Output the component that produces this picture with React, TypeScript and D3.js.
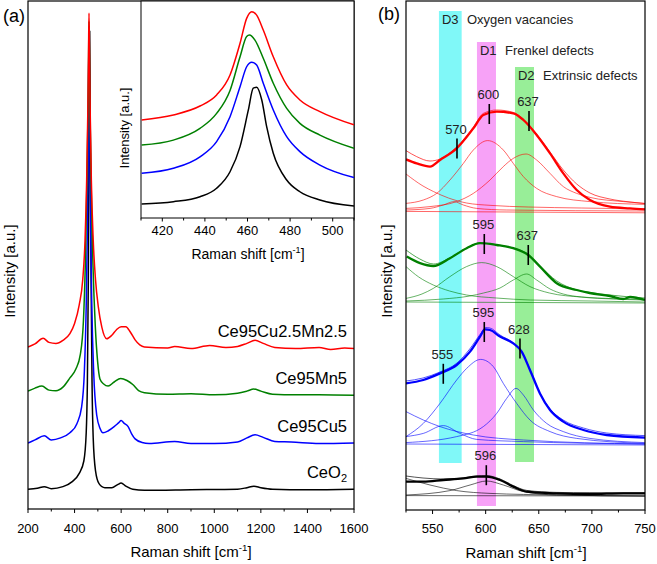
import React from 'react';
import * as d3 from 'd3';

type Pt = [number, number];

// ---------- panel (a): full Raman spectra (x: cm-1, y: a.u.) ----------
const specCeO2: Pt[] = [[200, 3.9], [240, 4.1], [270, 4.4], [300, 4.0], [350, 4.4], [390, 5.4], [420, 7], [440, 9.5], [450, 15], [455, 25], [459, 45], [462, 70], [465, 94], [468, 70], [471, 45], [475, 25], [480, 14], [490, 7.5], [505, 5], [530, 4.2], [560, 4.2], [585, 4.8], [600, 5.1], [620, 4.5], [650, 3.9], [700, 3.7], [900, 3.8], [1100, 3.9], [1140, 4.2], [1170, 4.5], [1200, 4.2], [1250, 3.9], [1400, 3.8], [1600, 3.9]];
const specCu5: Pt[] = [[200, 13], [230, 13.6], [270, 14.4], [300, 13.6], [340, 14], [380, 15], [410, 16.8], [430, 20], [442, 27], [450, 40], [455, 55], [459, 75], [462, 95], [465, 75], [469, 55], [474, 40], [482, 27], [495, 18.5], [510, 15.8], [522, 15], [545, 15.4], [570, 16.2], [590, 17.0], [600, 17.4], [612, 16.9], [630, 16.2], [645, 14.8], [660, 13.8], [690, 13.1], [720, 12.9], [830, 13.3], [900, 12.9], [1000, 12.9], [1100, 13.2], [1140, 14], [1175, 14.6], [1210, 14.1], [1260, 13.3], [1330, 13.2], [1450, 12.9], [1600, 13]];
const specMn5: Pt[] = [[200, 23.2], [230, 23.8], [260, 24.2], [290, 23.4], [320, 23.3], [350, 24], [380, 25.8], [405, 27.5], [425, 30.5], [438, 37], [446, 48], [452, 62], [457, 76], [460, 88], [462, 96], [464, 88], [467, 76], [472, 62], [479, 48], [489, 36], [499, 29], [509, 25.6], [525, 24.6], [544, 24.2], [570, 25.0], [598, 25.7], [625, 25.3], [650, 24.5], [675, 23.3], [700, 22.9], [800, 22.6], [900, 22.7], [1000, 22.5], [1100, 22.8], [1140, 23.2], [1170, 23.6], [1200, 23.2], [1250, 22.6], [1350, 22.5], [1450, 22.5], [1600, 22.4]];
const specCuMn: Pt[] = [[200, 31.9], [230, 32.5], [265, 33.6], [290, 32.8], [320, 32.6], [350, 33.2], [380, 34.5], [400, 36.5], [420, 40.2], [435, 45.1], [445, 53], [452, 64.8], [457, 78.5], [460, 90.4], [462, 97.6], [464, 90.4], [467, 78.5], [472, 64.8], [480, 53], [490, 45.1], [502, 39.8], [517, 35.8], [538, 33.5], [560, 34.2], [580, 35.3], [600, 35.9], [620, 35.9], [640, 34.8], [660, 33.3], [680, 32.3], [700, 31.9], [800, 31.7], [830, 32], [900, 31.6], [980, 32.2], [1050, 31.8], [1100, 32], [1140, 32.6], [1175, 33.2], [1210, 32.6], [1260, 31.8], [1350, 31.6], [1450, 31.8], [1500, 31.4], [1560, 31.7], [1600, 31.6]];

const sampleNames = ['CeO2', 'Ce95Cu5', 'Ce95Mn5', 'Ce95Cu2.5Mn2.5'];
const sampleColors = ['#000000', '#0000ff', '#008000', '#ff0000'];
const ticksA = [200, 400, 600, 800, 1000, 1200, 1400, 1600];

// ---------- inset: F2g band ----------
const insetCeO2: Pt[] = [[410.3, 6.5], [425.2, 7.5], [437.7, 9.8], [445.5, 13.7], [451.8, 21.3], [456.5, 32.9], [460.4, 49.8], [462.7, 59.8], [464.3, 60.3], [466.7, 54.4], [469, 42.1], [472.1, 29.8], [478.4, 17.5], [484.6, 12.1], [494, 8.3], [510, 5.5]];
const insetCu5: Pt[] = [[410.3, 20.6], [425.2, 22.9], [437.7, 28.2], [445.5, 35.2], [451.8, 46.7], [456.5, 60.5], [459.6, 69.7], [462, 71.8], [464.3, 70.5], [467.4, 62.1], [472.1, 49.8], [478.4, 37.5], [484.6, 30.6], [494, 24.4], [510, 18.6]];
const insetMn5: Pt[] = [[410.3, 33.6], [425.2, 35.9], [437.7, 41.3], [445.5, 48.2], [451.8, 58.8], [456.5, 74.3], [459.6, 83.6], [460.9, 84.3], [463.5, 82], [467.4, 73.6], [472.1, 62.1], [478.4, 50.5], [484.6, 43.6], [494, 38.2], [510, 32.1]];
const insetCuMn: Pt[] = [[410.3, 45.2], [425.2, 47.5], [437.7, 51.6], [445.5, 56.7], [451.8, 65.9], [456.5, 80.5], [459.6, 92], [462, 95.1], [464.3, 93.5], [467.4, 86.6], [472.1, 74.3], [478.4, 61.3], [484.6, 54.4], [494, 49], [510, 42.9]];
const ticksInset = [420, 440, 460, 480, 500];

// ---------- panel (b): defect region with fitted components ----------
const cuMnData: Pt[] = [[525, 175.3], [535, 173.3], [547.6, 171.7], [557, 175], [572.7, 180.8], [588.4, 190.8], [597.8, 197.5], [610.4, 199.2], [626, 198.3], [635.5, 195], [648, 187.5], [660.6, 178.3], [673.1, 168.3], [685.7, 160], [698.2, 155], [717, 151.7], [735.9, 150.8], [750, 150.3]];
const cuMnFit: Pt[] = [[525, 179.7], [535, 176.7], [547.6, 174.5], [557, 175.5], [572.7, 181.5], [588.4, 191.5], [597.8, 198.3], [610.4, 200], [626, 198.8], [635.5, 195.5], [648, 188], [660.6, 179], [673.1, 170], [685.7, 163], [698.2, 158.5], [717, 155.5], [735.9, 154], [750, 153.2]];
const cuMnD1: Pt[] = [[525, 153.3], [541.3, 155], [553.9, 158.3], [566.4, 165], [579, 173.3], [588.4, 180], [601.9, 184.7], [616.6, 180], [626, 173.3], [635.5, 166.7], [648, 160.8], [666.8, 156.7], [698.2, 154.2], [750, 152.8]];
const cuMnD2: Pt[] = [[525, 150.8], [547.6, 151.7], [572.7, 154.2], [588.4, 158.3], [604.1, 165], [616.6, 171.7], [626, 175.8], [638, 178], [648, 175], [660.6, 168.3], [673.1, 161.7], [685.7, 158.3], [698.2, 156.3], [729.6, 154.2], [750, 153.3]];
const cuMnD3: Pt[] = [[525, 150], [547.6, 150.8], [560.1, 152.5], [570.2, 154.2], [579, 152.5], [591.5, 150.8], [619.7, 150], [750, 149.5]];
const cuMnTail: Pt[] = [[525, 168], [541, 162], [551, 159.2], [565, 156], [582, 153.5], [605, 152.3], [640, 151.5], [690, 151], [750, 150.5]];
const cuMnBase: Pt[] = [[525, 149.3], [750, 148.6]];

const mn5Data: Pt[] = [[525.7, 126.7], [538.2, 123.4], [550.7, 122], [566.4, 125.9], [582.1, 130.9], [594.7, 133.4], [610.4, 132.5], [626, 130.9], [640.1, 127.5], [651.2, 121.7], [666.9, 113.4], [685.7, 110], [698, 108.5], [717, 107], [729.6, 105.5], [736, 106.5], [750, 105]];
const mn5Fit: Pt[] = [[525, 130], [538, 125.5], [551, 123], [566, 126], [582, 131], [595, 133.6], [610, 132.6], [626, 131], [640, 127.8], [651, 122], [667, 114.5], [686, 110], [698, 108.8], [717, 107.5], [736, 106.5], [750, 106]];
const mn5D1: Pt[] = [[525, 105.8], [540, 108], [550.7, 110.8], [566.4, 116.7], [582, 121.7], [596.3, 123.7], [610.4, 121.7], [626, 116.7], [641.7, 111.7], [660, 108.5], [690, 106.5], [750, 105.3]];
const mn5D2: Pt[] = [[525, 104.5], [560, 105.5], [585, 107], [598, 108.5], [613.5, 111], [626, 115], [638.6, 118], [648, 115], [660.6, 110.5], [673, 108], [690, 106.5], [720, 105.5], [750, 105]];
const mn5Tail: Pt[] = [[525, 121.7], [537, 116.5], [550.7, 112.5], [566, 109.5], [582, 107.5], [610, 106], [642, 105], [700, 104.5], [750, 104]];
const mn5Base: Pt[] = [[525, 104], [750, 103.5]];

const cu5Data: Pt[] = [[525, 63.3], [541.3, 65], [557, 68.3], [572.7, 72.5], [585.3, 79.2], [594.7, 86.7], [599.4, 90.3], [604.1, 90], [613.5, 86.7], [626, 83.3], [633.9, 79.2], [641.7, 70], [651.1, 58.3], [660.6, 50], [673.1, 44.2], [692, 40], [713.9, 37.5], [750, 36.2]];
const cu5Fit: Pt[] = [[525, 64.5], [541, 66], [557, 69], [573, 73.5], [585, 80.5], [595, 88], [600, 91.2], [604, 91], [613.5, 87.5], [626, 83.5], [634, 79], [642, 70], [651, 58.5], [660.6, 50.5], [673, 45], [692, 41], [714, 38.5], [750, 37.2]];
const cu5D1: Pt[] = [[525, 36.7], [541.3, 43.3], [557, 53.3], [572.7, 65], [582.1, 70.8], [595.3, 75.3], [607.2, 71.7], [616.6, 63.3], [629.2, 53.3], [641.7, 45], [660.6, 39.2], [685.7, 35.8], [750, 33.3]];
const cu5D2: Pt[] = [[525, 33.7], [572.7, 36.7], [597.8, 41.7], [610.4, 48.3], [619.8, 55.8], [628.6, 60.8], [635.5, 57.5], [644.9, 50], [657.4, 43.3], [673.1, 39.2], [698.2, 35.8], [750, 33.7]];
const cu5D3: Pt[] = [[525, 36.7], [541.3, 38.3], [560.1, 42.2], [575.8, 38.3], [591.5, 35.3], [635.5, 34.2], [750, 33]];
const cu5Tail: Pt[] = [[525, 49.2], [541.3, 45], [557, 41.7], [588.4, 37.5], [635.5, 35], [750, 33]];
const cu5Base: Pt[] = [[525, 33], [750, 32.5]];

const ceo2Data: Pt[] = [[525, 14.2], [541.3, 14.2], [560.1, 15], [579, 15.8], [591.5, 16.7], [600.9, 16.7], [613.5, 15], [626, 11.7], [638.6, 9.2], [666.8, 8.3], [698.2, 8], [729.6, 8.3], [750, 8.3]];
const ceo2Fit: Pt[] = [[525, 17], [541, 16], [560, 15.5], [579, 16], [591.5, 17], [601, 17.2], [613.5, 15.5], [626, 12.2], [638.6, 9.8], [667, 8.8], [698, 8.6], [750, 8.6]];
const ceo2D1: Pt[] = [[525, 7.5], [566.4, 9.7], [585.3, 12.5], [600.9, 14.5], [616.6, 12.5], [635.5, 9.2], [666.8, 7.5], [750, 7]];
const ceo2Tail: Pt[] = [[525, 15.8], [547.6, 12.5], [572.7, 9.7], [604.1, 8.3], [666.8, 7.5], [750, 7]];
const ceo2Base: Pt[] = [[525, 7.2], [750, 7]];

const bandNames = ['D3', 'D1', 'D2'];
const bandTitles = ['Oxygen vacancies', 'Frenkel defects', 'Extrinsic defects'];
const bandFrom = [556, 591.8, 627.6];
const bandTo = [577.4, 609.7, 645.5];
const bandTop = [249.5, 234, 221.5];
const bandBottom = [23.5, 2, 24];
const bandColors = ['#80f8f8', '#f7a2f7', '#98ee98'];

const markWn = [573, 603.4, 640.8, 598.7, 640.1, 560.1, 598.7, 632.3, 600.6];
const markMid = [180.7, 198, 194.5, 133, 127.5, 68.1, 89, 80.7, 17.4];
const markLabels = ['570', '600', '637', '595', '637', '555', '595', '628', '596'];
const ticksB = [550, 600, 650, 700, 750];

const FONT = 'Liberation Sans, Arial, Helvetica, sans-serif';

const xA = d3.scaleLinear().domain([200, 1600]).range([28, 354]);
const yA = d3.scaleLinear().domain([0, 100]).range([509, 1]);
const xI = d3.scaleLinear().domain([410, 510]).range([141, 354]);
const yI = d3.scaleLinear().domain([0, 100]).range([218, 1]);
const xB = d3.scaleLinear().domain([525, 750]).range([406, 645]);
const yB = d3.scaleLinear().domain([0, 254.5]).range([510, 1]);

const mk = (sx: d3.ScaleLinear<number, number>, sy: d3.ScaleLinear<number, number>) =>
  d3.line<Pt>().x(d => sx(d[0])).y(d => sy(d[1])).curve(d3.curveMonotoneX);

const lineA = mk(xA, yA);
const lineI = mk(xI, yI);
const lineB = mk(xB, yB);

const CmTitle = ({ x, y, size }: { x: number; y: number; size: number }) => (
  <text x={x} y={y} textAnchor="middle" fontSize={size} fontFamily={FONT}>
    Raman shift [cm<tspan dy={-6} fontSize={size * 0.65}>-1</tspan><tspan dy={6}>]</tspan>
  </text>
);

const App = () => {
  const specA = [specCeO2, specCu5, specMn5, specCuMn];
  const specI = [insetCeO2, insetCu5, insetMn5, insetCuMn];
  const groupsB = [
    { color: '#000000', data: ceo2Data, fit: ceo2Fit, comps: [ceo2D1, ceo2Tail, ceo2Base] },
    { color: '#0000ff', data: cu5Data, fit: cu5Fit, comps: [cu5D1, cu5D2, cu5D3, cu5Tail, cu5Base] },
    { color: '#008000', data: mn5Data, fit: mn5Fit, comps: [mn5D1, mn5D2, mn5Tail, mn5Base] },
    { color: '#ff0000', data: cuMnData, fit: cuMnFit, comps: [cuMnD1, cuMnD2, cuMnD3, cuMnTail, cuMnBase] },
  ];

  const minorA = d3.range(200, 1601, 100);
  const minorI = d3.range(410, 511, 10);
  const minorB = d3.range(525, 751, 25);

  return (
    <svg width={657} height={564} style={{ position: 'absolute', left: 0, top: 0, background: '#fff' }}>
      <defs>
        <clipPath id="clipA"><rect x={28} y={1} width={326} height={508} /></clipPath>
        <clipPath id="clipI"><rect x={141} y={1} width={213} height={217} /></clipPath>
        <clipPath id="clipB"><rect x={406} y={1} width={239} height={509} /></clipPath>
      </defs>

      {/* ---------- panel (a) ---------- */}
      <g clipPath="url(#clipA)">
        {specA.map((s, i) => (
          <path key={i} d={lineA(s) || ''} fill="none" stroke={sampleColors[i]} strokeWidth={1.5} />
        ))}
      </g>
      {specA.map((s, i) => (
        <text key={i} x={347} y={yA(s[s.length - 1][1]) - 11} textAnchor="end" fontSize={16.5} fontFamily={FONT}>
          {sampleNames[i] === 'CeO2' ? (<>CeO<tspan dy={4} fontSize={11}>2</tspan></>) : sampleNames[i]}
        </text>
      ))}
      <rect x={28} y={1} width={326} height={508} fill="none" stroke="#000" strokeWidth={1.2} />
      {minorA.map(t => (
        <line key={t} x1={xA(t)} x2={xA(t)} y1={509} y2={t % 200 === 0 ? 513 : 511.5} stroke="#000" />
      ))}
      {ticksA.map(t => (
        <text key={t} x={xA(t)} y={533} textAnchor="middle" fontSize={13} fontFamily={FONT}>{t}</text>
      ))}
      <CmTitle x={191} y={557} size={15} />
      <text transform={`translate(15,271) rotate(-90)`} textAnchor="middle" fontSize={15} fontFamily={FONT}>Intensity [a.u.]</text>
      <text x={3} y={22} fontSize={18} fontFamily={FONT}>(a)</text>

      {/* ---------- inset ---------- */}
      <rect x={141} y={1} width={213} height={217} fill="#fff" stroke="#000" strokeWidth={1} />
      <g clipPath="url(#clipI)">
        {specI.map((s, i) => (
          <path key={i} d={lineI(s) || ''} fill="none" stroke={sampleColors[i]} strokeWidth={1.5} />
        ))}
      </g>
      {minorI.map(t => (
        <line key={t} x1={xI(t)} x2={xI(t)} y1={218} y2={t % 20 === 0 ? 221.5 : 220.5} stroke="#000" />
      ))}
      {ticksInset.map(t => (
        <text key={t} x={xI(t)} y={235} textAnchor="middle" fontSize={13} fontFamily={FONT}>{t}</text>
      ))}
      <CmTitle x={248} y={259} size={14} />
      <text transform={`translate(129,128) rotate(-90)`} textAnchor="middle" fontSize={13} fontFamily={FONT}>Intensity [a.u.]</text>

      {/* ---------- panel (b) ---------- */}
      {bandNames.map((b, i) => (
        <rect key={b} x={xB(bandFrom[i])} y={yB(bandTop[i])} width={xB(bandTo[i]) - xB(bandFrom[i])}
          height={yB(bandBottom[i]) - yB(bandTop[i])} fill={bandColors[i]} />
      ))}
      <g clipPath="url(#clipB)">
        {groupsB.map((g, gi) => (
          <g key={gi}>
            {g.comps.map((c, ci) => (
              <path key={ci} d={lineB(c) || ''} fill="none" stroke={g.color} strokeOpacity={0.75} strokeWidth={0.8} />
            ))}
            <path d={lineB(g.fit) || ''} fill="none" stroke={g.color} strokeOpacity={0.75} strokeWidth={0.9} />
            <path d={lineB(g.data) || ''} fill="none" stroke={g.color} strokeWidth={2.3} />
          </g>
        ))}
      </g>
      {bandNames.map((b, i) => (
        <text key={b} x={xB(bandFrom[i]) + 3} y={yB(bandTop[i]) + 13} fontSize={13} fontFamily={FONT} fill="#222">
          {b}<tspan x={xB(bandFrom[i]) + 28}>{bandTitles[i]}</tspan>
        </text>
      ))}
      {markWn.map((w, i) => (
        <g key={i}>
          <line x1={xB(w)} x2={xB(w)} y1={yB(markMid[i]) - 10} y2={yB(markMid[i]) + 10} stroke="#000" strokeWidth={1.6} />
          <text x={xB(w) - 1} y={yB(markMid[i]) - 15} textAnchor="middle" fontSize={13} fontFamily={FONT} fill="#222">{markLabels[i]}</text>
        </g>
      ))}
      <rect x={406} y={1} width={239} height={509} fill="none" stroke="#000" strokeWidth={1.2} />
      {minorB.map(t => (
        <line key={t} x1={xB(t)} x2={xB(t)} y1={510} y2={t % 50 === 0 ? 514 : 512.5} stroke="#000" />
      ))}
      {ticksB.map(t => (
        <text key={t} x={xB(t)} y={533} textAnchor="middle" fontSize={13} fontFamily={FONT}>{t}</text>
      ))}
      <CmTitle x={526} y={558} size={15} />
      <text transform={`translate(392,271) rotate(-90)`} textAnchor="middle" fontSize={15} fontFamily={FONT}>Intensity [a.u.]</text>
      <text x={378} y={20} fontSize={18} fontFamily={FONT}>(b)</text>
    </svg>
  );
};

export default App;
